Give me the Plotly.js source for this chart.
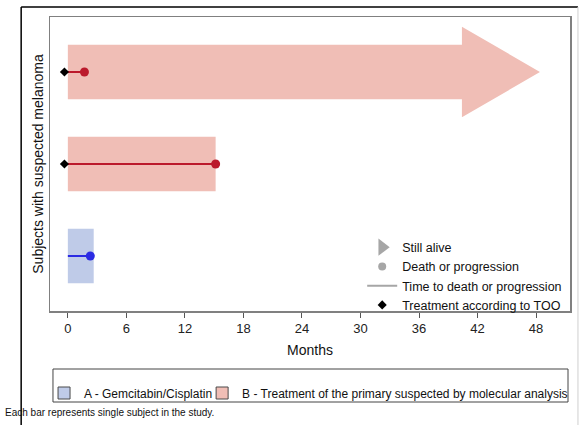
<!DOCTYPE html>
<html>
<head>
<meta charset="utf-8">
<script src="https://cdn.plot.ly/plotly-3.0.1.min.js"></script>
<style>
  html, body { margin: 0; padding: 0; background: #ffffff; }
  #chart { width: 583px; height: 425px; }
</style>
</head>
<body>
<div id="chart"></div>
<script>
// ---- data ----
const subjects   = [1, 2, 3];               // swim-lane positions (bottom to top)
const groups     = ['A', 'B', 'B'];         // treatment arm per subject
const duration   = [2.65, 15.15, 48.4];     // months on study (bar length)
const stillAlive = [false, false, true];    // arrow = still alive
const deathTime  = [2.3, 15.15, 1.7];       // death or progression (months)
const tooStart   = [null, -0.35, -0.35];    // treatment according to TOO (months)
const monthTicks = [0, 6, 12, 18, 24, 30, 36, 42, 48];
const groupNames = {
  A: 'A - Gemcitabin/Cisplatin',
  B: 'B - Treatment of the primary suspected by molecular analysis'
};

// ---- styles ----
const FONT = 'Liberation Sans, Arial, Helvetica, sans-serif';
const fill = { A: '#BFCBE8', B: '#F0BEB6' };
const lineCol = { A: '#2B2BE3', B: '#BB1A2C' };
const BAR_W = 0.59, HEAD_H = 0.985, HEAD_LEN = 8;

// ---- plot area geometry (px) for paper-coordinate helpers ----
const W = 583, H = 425, PL = 50, PR = 573, PT = 17, PB = 311;
const px = x => (x - PL) / (PR - PL);
const py = y => (PB - y) / (PB - PT);

const traces = [];

// bars (not still alive) per group
['A', 'B'].forEach(g => {
  const xs = [], ys = [];
  subjects.forEach((s, i) => {
    if (groups[i] === g && !stillAlive[i]) { xs.push(duration[i]); ys.push(s); }
  });
  traces.push({
    type: 'bar', orientation: 'h', x: xs, y: ys, base: 0, width: BAR_W,
    marker: { color: fill[g], line: { width: 0 } },
    showlegend: false, hoverinfo: 'skip'
  });
});

// arrows for subjects still alive
['A', 'B'].forEach(g => {
  const xs = [], ys = [];
  subjects.forEach((s, i) => {
    if (groups[i] === g && stillAlive[i]) {
      const end = duration[i], neck = end - HEAD_LEN, b = BAR_W / 2, h = HEAD_H / 2;
      xs.push(0, neck, neck, end, neck, neck, 0, 0, null);
      ys.push(s - b, s - b, s - h, s, s + h, s + b, s + b, s - b, null);
    }
  });
  if (xs.length) traces.push({
    type: 'scatter', mode: 'lines', x: xs, y: ys, fill: 'toself',
    fillcolor: fill[g], line: { width: 0, color: fill[g] },
    showlegend: false, hoverinfo: 'skip'
  });
});

// time to death lines + death markers per group
['A', 'B'].forEach(g => {
  const lx = [], ly = [], mx = [], my = [];
  subjects.forEach((s, i) => {
    if (groups[i] !== g) return;
    const start = tooStart[i] === null ? 0 : tooStart[i];
    lx.push(start, deathTime[i], null); ly.push(s, s, null);
    mx.push(deathTime[i]); my.push(s);
  });
  traces.push({
    type: 'scatter', mode: 'lines', x: lx, y: ly,
    line: { color: lineCol[g], width: 2 }, showlegend: false, hoverinfo: 'skip'
  });
  traces.push({
    type: 'scatter', mode: 'markers', x: mx, y: my,
    marker: { color: lineCol[g], size: 9, symbol: 'circle' },
    showlegend: false, hoverinfo: 'skip'
  });
});

// TOO diamonds
(() => {
  const xs = [], ys = [];
  subjects.forEach((s, i) => { if (tooStart[i] !== null) { xs.push(tooStart[i]); ys.push(s); } });
  traces.push({
    type: 'scatter', mode: 'markers', x: xs, y: ys,
    marker: { color: '#000000', size: 7, symbol: 'diamond' },
    showlegend: false, hoverinfo: 'skip'
  });
})();

// legend-only entries: inner symbol legend
const GRAY = '#A6A6A6';
traces.push({ type: 'scatter', mode: 'markers', x: [null], y: [null], name: 'Still alive',
  marker: { symbol: 'triangle-right', size: 15, color: GRAY }, legend: 'legend' });
traces.push({ type: 'scatter', mode: 'markers', x: [null], y: [null], name: 'Death or progression',
  marker: { symbol: 'circle', size: 8, color: GRAY }, legend: 'legend' });
traces.push({ type: 'scatter', mode: 'lines', x: [null], y: [null], name: 'Time to death or progression',
  line: { color: GRAY, width: 2 }, legend: 'legend' });
traces.push({ type: 'scatter', mode: 'markers', x: [null], y: [null], name: 'Treatment according to TOO',
  marker: { symbol: 'diamond', size: 7, color: '#000000' }, legend: 'legend' });

// legend-only entries: group legend
traces.push({ type: 'bar', x: [null], y: [null], name: groupNames.A, legend: 'legend2',
  marker: { color: fill.A, line: { color: '#4a4a4a', width: 1 } } });
traces.push({ type: 'bar', x: [null], y: [null], name: groupNames.B, legend: 'legend3',
  marker: { color: fill.B, line: { color: '#4a4a4a', width: 1 } } });

const layout = {
  width: W, height: H,
  margin: { l: PL, r: W - PR, t: PT, b: H - PB, pad: 0 },
  paper_bgcolor: '#ffffff', plot_bgcolor: '#ffffff',
  font: { family: FONT, color: '#111111', size: 12 },
  hovermode: false,
  showlegend: true,
  barmode: 'overlay',
  xaxis: {
    range: [-1.83, 51.48], tickvals: monthTicks, ticktext: monthTicks.map(String),
    ticks: 'outside', ticklen: 5, tickwidth: 1, tickcolor: '#555555',
    tickfont: { size: 13, color: '#222222' },
    showgrid: false, zeroline: false,
    showline: true, mirror: true, linecolor: '#808080', linewidth: 1.5,
    title: { text: 'Months', font: { size: 14, color: '#111111' }, standoff: 10 }
  },
  yaxis: {
    range: [0.402, 3.598], showticklabels: false, ticks: '',
    showgrid: false, zeroline: false,
    showline: true, mirror: true, linecolor: '#808080', linewidth: 1.5,
    title: { text: 'Subjects with suspected melanoma', font: { size: 14, color: '#111111' }, standoff: 1 }
  },
  legend: {
    x: px(364), xanchor: 'left', y: py(276), yanchor: 'middle',
    bgcolor: 'rgba(0,0,0,0)', borderwidth: 0,
    font: { size: 12.5, color: '#111111' }, traceorder: 'normal'
  },
  legend2: {
    x: px(44), xanchor: 'left', y: py(393), yanchor: 'middle',
    bgcolor: 'rgba(0,0,0,0)', borderwidth: 0, font: { size: 12, color: '#111111' }
  },
  legend3: {
    x: px(203), xanchor: 'left', y: py(393), yanchor: 'middle',
    bgcolor: 'rgba(0,0,0,0)', borderwidth: 0, font: { size: 12, color: '#111111' }
  },
  shapes: [
    // outer frame
    { type: 'line', xref: 'paper', yref: 'paper', x0: px(21), x1: px(21), y0: py(7), y1: py(432),
      line: { color: '#000000', width: 1.5 } },
    { type: 'line', xref: 'paper', yref: 'paper', x0: px(21), x1: px(581), y0: py(7), y1: py(7),
      line: { color: '#000000', width: 1.5 } },
    { type: 'line', xref: 'paper', yref: 'paper', x0: px(581), x1: px(581), y0: py(7), y1: py(432),
      line: { color: '#cfcfcf', width: 1 } },
    // group legend box
    { type: 'rect', xref: 'paper', yref: 'paper', x0: px(53), x1: px(571), y0: py(369), y1: py(402),
      line: { color: '#444444', width: 1 }, fillcolor: 'rgba(0,0,0,0)' }
  ],
  annotations: [
    { text: 'Each bar represents single subject in the study.', xref: 'paper', yref: 'paper',
      x: px(3), y: py(412), xanchor: 'left', yanchor: 'middle', showarrow: false,
      font: { size: 10, color: '#111111' } }
  ]
};

Plotly.newPlot('chart', traces, layout, { displayModeBar: false, staticPlot: true });
</script>
</body>
</html>
